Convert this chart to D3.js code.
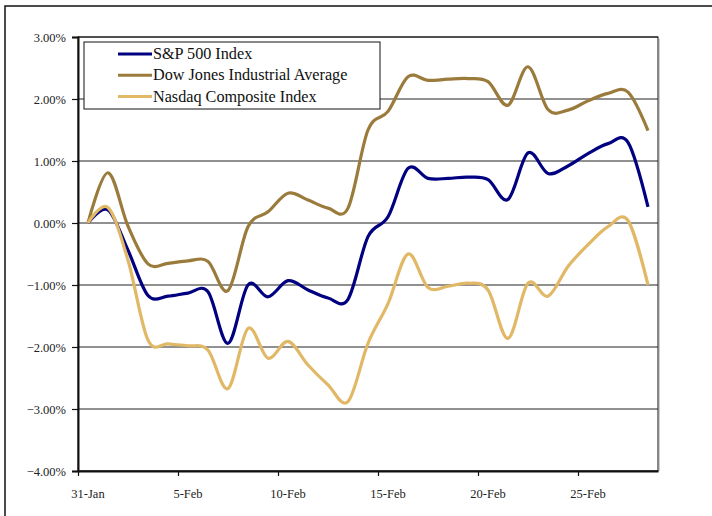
<!DOCTYPE html>
<html>
<head>
<meta charset="utf-8">
<script src="https://cdn.jsdelivr.net/npm/d3@7"></script>
<style>
  body { margin: 0; background: #fff; }
  svg { display: block; font-family: "Liberation Serif", "DejaVu Serif", serif; }
</style>
</head>
<body>
<div id="chart"></div>
<script>
// daily categories, 31-Jan .. 28-Feb
var days = ["31-Jan", "1-Feb", "2-Feb", "3-Feb", "4-Feb", "5-Feb", "6-Feb", "7-Feb", "8-Feb", "9-Feb",
            "10-Feb", "11-Feb", "12-Feb", "13-Feb", "14-Feb", "15-Feb", "16-Feb", "17-Feb", "18-Feb", "19-Feb",
            "20-Feb", "21-Feb", "22-Feb", "23-Feb", "24-Feb", "25-Feb", "26-Feb", "27-Feb", "28-Feb"];

var dayLabels = ["31-Jan", "5-Feb", "10-Feb", "15-Feb", "20-Feb", "25-Feb"];

var yTicks = [-4, -3, -2, -1, 0, 1, 2, 3];

// cumulative % change
var sp500 = [0, 0.21, -0.44, -1.17, -1.18, -1.13, -1.11, -1.94, -1.0, -1.19,
             -0.93, -1.08, -1.21, -1.23, -0.22, 0.10, 0.88, 0.72, 0.72, 0.74,
             0.70, 0.38, 1.13, 0.80, 0.92, 1.12, 1.28, 1.30, 0.26];

var dow = [0, 0.81, -0.05, -0.66, -0.65, -0.61, -0.62, -1.09, -0.06, 0.18,
           0.48, 0.37, 0.24, 0.24, 1.50, 1.80, 2.36, 2.30, 2.32, 2.33,
           2.28, 1.90, 2.52, 1.83, 1.82, 1.97, 2.09, 2.11, 1.49];

var nasdaq = [0, 0.25, -0.60, -1.89, -1.95, -1.98, -2.05, -2.67, -1.70, -2.18,
              -1.91, -2.29, -2.61, -2.88, -1.94, -1.30, -0.50, -1.04, -1.02, -0.97,
              -1.08, -1.86, -0.97, -1.18, -0.70, -0.35, -0.06, 0.04, -1.00];

var seriesNames = ["S&P 500 Index", "Dow Jones Industrial Average", "Nasdaq Composite Index"];
var seriesColors = ["#000080", "#9a7b3c", "#e1b866"];
var seriesData = [sp500, dow, nasdaq];

var width = 712, height = 516;
var margin = {left: 78, right: 658, top: 37, bottom: 471};

var svg = d3.select("#chart").append("svg")
    .attr("width", width)
    .attr("height", height);

// outer frame
svg.append("rect")
    .attr("x", 5).attr("y", 6)
    .attr("width", 720).attr("height", 520)
    .style("fill", "none")
    .style("stroke", "#111")
    .style("stroke-width", 1.5);

var x = d3.scaleLinear().domain([-0.5, days.length - 0.5]).range([margin.left, margin.right]);
var y = d3.scaleLinear().domain([-4, 3]).range([margin.bottom, margin.top]);

// grid lines
svg.append("g").selectAll("line")
    .data(yTicks)
    .enter().append("line")
    .attr("x1", margin.left).attr("x2", margin.right)
    .attr("y1", function (d) { return y(d); })
    .attr("y2", function (d) { return y(d); })
    .style("stroke", "#222")
    .style("stroke-width", 1);

// plot border + shadow
svg.append("line")
    .attr("x1", margin.right + 1.5).attr("x2", margin.right + 1.5)
    .attr("y1", margin.top + 2).attr("y2", margin.bottom)
    .style("stroke", "#ccc").style("stroke-width", 1);
svg.append("rect")
    .attr("x", margin.left).attr("y", margin.top)
    .attr("width", margin.right - margin.left).attr("height", margin.bottom - margin.top)
    .style("fill", "none")
    .style("stroke", "#111")
    .style("stroke-width", 1);

// y axis
var yAxis = d3.axisLeft(y)
    .tickValues(yTicks)
    .tickSize(6)
    .tickPadding(6)
    .tickFormat(function (d) { return d3.format(".2f")(d) + "%"; });

var gy = svg.append("g")
    .attr("transform", "translate(" + margin.left + ",0)")
    .call(yAxis);
gy.select(".domain").style("stroke", "#111").style("stroke-width", 2);
gy.selectAll(".tick line").style("stroke", "#111").style("stroke-width", 1.2);
gy.selectAll(".tick text")
    .style("font-family", "Liberation Serif, serif")
    .style("font-size", "12.5px")
    .style("fill", "#222");

// x axis: ticks on category boundaries, labels centred in categories
var tickPos = dayLabels.map(function (d) { return days.indexOf(d) - 0.5; });
var xAxis = d3.axisBottom(x)
    .tickValues(tickPos)
    .tickSize(5)
    .tickSizeOuter(0)
    .tickFormat("");

var gx = svg.append("g")
    .attr("transform", "translate(0," + margin.bottom + ")")
    .call(xAxis);
gx.select(".domain").style("stroke", "#111").style("stroke-width", 2);
gx.selectAll(".tick line").style("stroke", "#111").style("stroke-width", 1.2);

svg.append("g").selectAll("text")
    .data(dayLabels)
    .enter().append("text")
    .attr("x", function (d) { return x(days.indexOf(d)); })
    .attr("y", 498)
    .attr("text-anchor", "middle")
    .style("font-size", "12.5px")
    .style("fill", "#222")
    .text(function (d) { return d; });

// lines
var line = d3.line()
    .x(function (d, i) { return x(i); })
    .y(function (d) { return y(d); })
    .curve(d3.curveCatmullRom.alpha(0));

svg.append("g").selectAll("path")
    .data(seriesData)
    .enter().append("path")
    .attr("d", line)
    .style("fill", "none")
    .style("stroke", function (d, i) { return seriesColors[i]; })
    .style("stroke-width", 3.2)
    .style("stroke-linejoin", "round");

// legend
var legend = svg.append("g");
legend.append("rect")
    .attr("x", 84).attr("y", 42)
    .attr("width", 296).attr("height", 67)
    .style("fill", "#fff")
    .style("stroke", "#111")
    .style("stroke-width", 1);

var rows = legend.selectAll("g.row")
    .data(seriesNames)
    .enter().append("g")
    .attr("class", "row")
    .attr("transform", function (d, i) { return "translate(0," + (54 + i * 21.3) + ")"; });

rows.append("line")
    .attr("x1", 118).attr("x2", 152)
    .attr("y1", 0).attr("y2", 0)
    .style("stroke", function (d, i) { return seriesColors[i]; })
    .style("stroke-width", 3);

rows.append("text")
    .attr("x", 153)
    .attr("y", 5)
    .style("font-size", "16.2px")
    .style("fill", "#111")
    .text(function (d) { return d; });
</script>
</body>
</html>
